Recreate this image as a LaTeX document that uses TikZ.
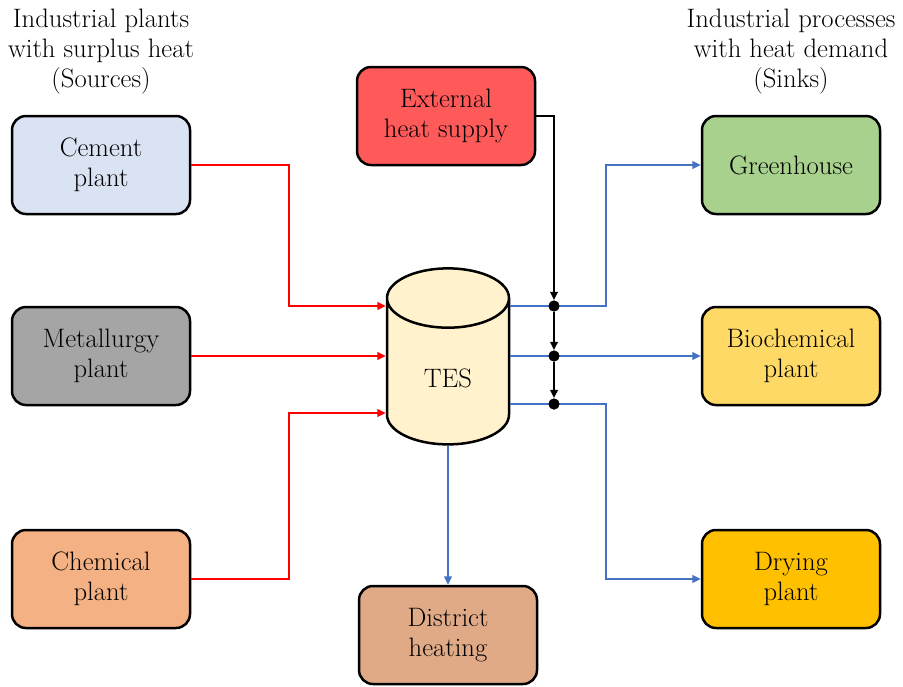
\documentclass[tikz,border=0pt]{standalone}
\usepackage{fontspec}
\usepackage{tikz}
\usetikzlibrary{shapes.geometric, arrows.meta, positioning, calc}
\definecolor{tsCement}{RGB}{218,227,243}
\definecolor{tsMetal}{RGB}{165,165,165}
\definecolor{tsChem}{RGB}{244,177,131}
\definecolor{tsExtern}{RGB}{255,90,90}
\definecolor{tsDistrict}{RGB}{225,170,135}
\definecolor{tsGreen}{RGB}{169,209,142}
\definecolor{tsBio}{RGB}{255,217,102}
\definecolor{tsDry}{RGB}{255,192,0}
\definecolor{tsTank}{RGB}{255,242,204}
\definecolor{tsBlue}{RGB}{68,114,196}
\definecolor{tsRed}{RGB}{255,0,0}
\tikzset{
  plantbox/.style={rectangle, rounded corners=8.4pt, draw=black, line width=1.5pt,
    minimum width=106.8pt, minimum height=58.8pt, align=center,
    font=\fontsize{16}{18}\selectfont},
  tankbox/.style={cylinder, shape border rotate=90, aspect=1.0, draw=black,
    line width=1.5pt, fill=tsTank, minimum width=73.2pt, minimum height=105.6pt,
    font=\fontsize{16}{18}\selectfont},
  headlabel/.style={align=center, font=\fontsize{16}{18}\selectfont},
  junction/.style={circle, fill=black, inner sep=0pt, minimum size=6.6pt},
  heatin/.style={-{Triangle[length=5pt,width=4.5pt]}, line width=1.2pt, color=tsRed},
  heatout/.style={-{Triangle[length=5pt,width=4.5pt]}, line width=1.2pt, color=tsBlue},
  supply/.style={-{Triangle[length=5pt,width=4.5pt]}, line width=1.2pt, color=black},
}
\begin{document}
\begin{tikzpicture}[x=0.6pt, y=-0.6pt]
\useasboundingbox (0,0) rectangle (903,686);

%% HEADERS
\node[headlabel] (src_head) at (101,52) {Industrial plants\\with surplus heat\\(Sources)};
\node[headlabel] (snk_head) at (791,52) {Industrial processes\\with heat demand\\(Sinks)};

%% SOURCES
\node[plantbox, fill=tsCement] (cement)     at (101,165) {Cement\\plant};
\node[plantbox, fill=tsMetal]  (metallurgy) at (101,356) {Metallurgy\\plant};
\node[plantbox, fill=tsChem]   (chemical)   at (101,579) {Chemical\\plant};

%% STORAGE
\node[tankbox] (tes) at (448,378) {TES};
\node[plantbox, fill=tsExtern]   (external) at (446,116) {External\\heat supply};
\node[plantbox, fill=tsDistrict] (district) at (448,635) {District\\heating};

%% junctions on the discharge lines
\node[junction] (j1) at (554,306) {};
\node[junction] (j2) at (554,356) {};
\node[junction] (j3) at (554,404) {};

%% SINKS
\node[plantbox, fill=tsGreen] (greenhouse) at (791,165) {Greenhouse};
\node[plantbox, fill=tsBio]   (biochem)    at (791,356) {Biochemical\\plant};
\node[plantbox, fill=tsDry]   (drying)     at (791,579) {Drying\\plant};

%% CHARGING (red)
\draw[heatin] (cement.east) -- ++(98,0) |- (tes.west |- j1);
\draw[heatin] (metallurgy.east) -- (tes.west |- metallurgy.east);
\draw[heatin] (chemical.east) -- ++(98,0) |- ([yshift=-5.4pt]tes.west |- j3);

%% DISCHARGING (blue)
\draw[heatout] (tes.east |- j1) -- ++(96,0) |- (greenhouse.west);
\draw[heatout] (tes.east |- j2) -- (biochem.west);
\draw[heatout] (tes.east |- j3) -- ++(96,0) |- (drying.west);
\draw[heatout] (tes.south) -- (district.north);

%% EXTERNAL SUPPLY (black)
\draw[supply] (external.east) -| (j1);
\draw[supply] (j1) -- (j2);
\draw[supply] (j2) -- (j3);
\node[junction] at (j1) {};
\node[junction] at (j2) {};
\node[junction] at (j3) {};

\end{tikzpicture}
\end{document}
